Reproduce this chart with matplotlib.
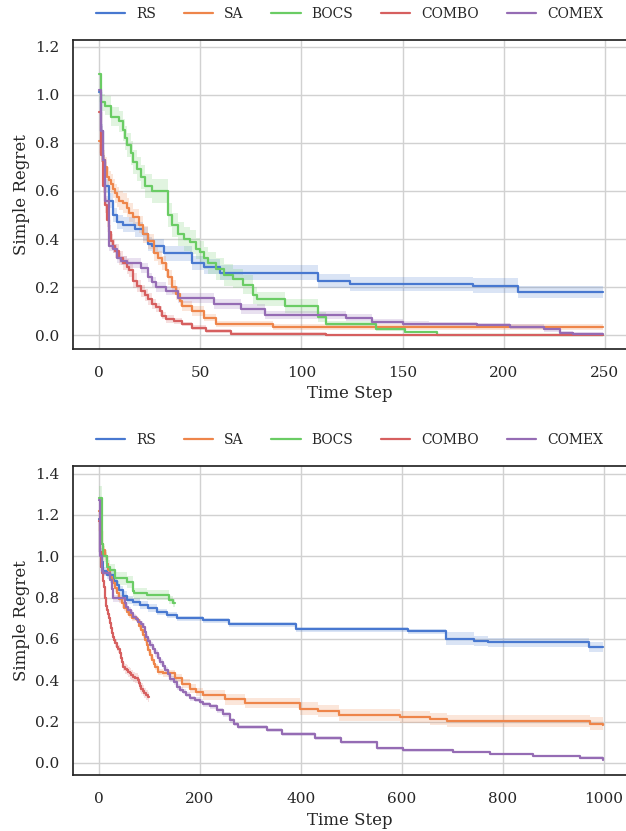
########################################################################################################################
# Simple regret curves - two benchmarks
########################################################################################################################
import numpy as np
import seaborn as sns
import matplotlib
matplotlib.use("Agg")
from matplotlib import pyplot as plt
########################################################################################################################
# Data (breakpoints of the step curves, mean and half band width)
########################################################################################################################
metodos = ["RS", "SA", "BOCS", "COMBO", "COMEX"]

# painel de cima (250 passos)
rs1_t = [0, 1, 2, 3, 5, 7, 9, 12, 18, 22, 24, 26, 32, 46, 52, 60, 108, 124, 185, 207, 249]
rs1_y = [1.01, 0.85, 0.72, 0.62, 0.56, 0.50, 0.47, 0.46, 0.44, 0.42, 0.38, 0.37, 0.34, 0.30, 0.285, 0.26,
         0.225, 0.213, 0.206, 0.18, 0.18]
rs1_e = [0.0, 0.03, 0.03, 0.03, 0.03, 0.03, 0.03, 0.03, 0.03, 0.03, 0.03, 0.03, 0.03, 0.03, 0.03, 0.03,
         0.03, 0.03, 0.03, 0.025, 0.025]

sa1_t = [0, 1, 2, 3, 4, 5, 6, 7, 8, 9, 10, 12, 14, 15, 17, 20, 22, 24, 27, 29, 31, 33, 34, 36, 38, 40, 41,
         46, 52, 58, 86, 249]
sa1_y = [0.81, 0.76, 0.73, 0.70, 0.66, 0.645, 0.63, 0.61, 0.59, 0.575, 0.56, 0.55, 0.53, 0.51, 0.49, 0.46,
         0.42, 0.39, 0.34, 0.32, 0.30, 0.27, 0.24, 0.20, 0.17, 0.14, 0.12, 0.10, 0.072, 0.045, 0.033, 0.033]
sa1_e = [0.0, 0.04, 0.04, 0.04, 0.04, 0.04, 0.04, 0.04, 0.04, 0.04, 0.04, 0.04, 0.04, 0.04, 0.035, 0.035,
         0.035, 0.03, 0.03, 0.03, 0.03, 0.03, 0.03, 0.03, 0.025, 0.02, 0.02, 0.02, 0.015, 0.012, 0.012, 0.012]

bocs1_t = [0, 1, 3, 6, 10, 12, 13, 14, 16, 17, 19, 21, 23, 26, 34, 36, 39, 42, 45, 48, 50, 52, 54, 58, 62,
           66, 71, 76, 78, 92, 108, 112, 137, 151, 167, 249]
bocs1_y = [1.085, 0.97, 0.955, 0.91, 0.89, 0.855, 0.82, 0.79, 0.76, 0.72, 0.69, 0.66, 0.62, 0.60, 0.50, 0.46,
           0.42, 0.40, 0.387, 0.36, 0.345, 0.32, 0.30, 0.275, 0.25, 0.235, 0.21, 0.165, 0.15, 0.12, 0.075,
           0.045, 0.025, 0.012, 0.002, 0.002]
bocs1_e = [0.0, 0.035, 0.04, 0.04, 0.045, 0.045, 0.05, 0.05, 0.05, 0.05, 0.05, 0.05, 0.05, 0.05, 0.05, 0.05,
           0.05, 0.05, 0.05, 0.045, 0.045, 0.045, 0.045, 0.045, 0.045, 0.04, 0.04, 0.035, 0.03, 0.03, 0.02,
           0.015, 0.01, 0.005, 0.003, 0.003]

combo1_t = [0, 1, 2, 3, 4, 5, 6, 7, 8, 10, 12, 14, 15, 17, 19, 21, 23, 24, 26, 28, 30, 31, 33, 37, 41, 46,
            53, 65, 112, 249]
combo1_y = [0.93, 0.75, 0.62, 0.54, 0.48, 0.43, 0.39, 0.37, 0.35, 0.32, 0.30, 0.285, 0.27, 0.227, 0.205,
            0.185, 0.165, 0.15, 0.13, 0.115, 0.10, 0.08, 0.067, 0.06, 0.046, 0.031, 0.017, 0.006, 0.0, 0.0]
combo1_e = [0.0, 0.03, 0.03, 0.03, 0.03, 0.03, 0.03, 0.03, 0.03, 0.03, 0.03, 0.03, 0.03, 0.03, 0.025,
            0.025, 0.025, 0.025, 0.02, 0.02, 0.02, 0.015, 0.015, 0.012, 0.01, 0.01, 0.008, 0.005, 0.003, 0.003]

comex1_t = [0, 1, 2, 3, 5, 7, 9, 11, 14, 21, 24, 26, 28, 33, 39, 57, 70, 82, 122, 135, 150, 163, 187, 203,
            220, 228, 234, 249]
comex1_y = [1.02, 0.85, 0.73, 0.56, 0.37, 0.36, 0.32, 0.31, 0.30, 0.28, 0.24, 0.22, 0.20, 0.185, 0.155, 0.13,
            0.108, 0.084, 0.073, 0.056, 0.048, 0.045, 0.04, 0.035, 0.024, 0.01, 0.005, 0.005]
comex1_e = [0.0, 0.02, 0.02, 0.02, 0.02, 0.02, 0.02, 0.02, 0.02, 0.02, 0.02, 0.02, 0.02, 0.02, 0.02, 0.02,
            0.02, 0.015, 0.015, 0.01, 0.01, 0.01, 0.01, 0.01, 0.01, 0.008, 0.006, 0.006]

# painel de baixo (1000 passos)
rs2_t = [0, 2, 5, 8, 15, 30, 35, 40, 47, 55, 68, 81, 98, 114, 134, 154, 206, 258, 390, 611, 687, 743, 770,
         971, 999]
rs2_y = [1.18, 1.02, 0.97, 0.93, 0.91, 0.88, 0.86, 0.835, 0.81, 0.79, 0.78, 0.765, 0.748, 0.73, 0.715, 0.70,
         0.69, 0.672, 0.646, 0.638, 0.602, 0.59, 0.583, 0.56, 0.56]
rs2_e = [0.0, 0.02, 0.02, 0.02, 0.02, 0.02, 0.02, 0.02, 0.02, 0.02, 0.02, 0.02, 0.02, 0.015, 0.015, 0.012,
         0.012, 0.012, 0.01, 0.012, 0.03, 0.025, 0.02, 0.025, 0.025]

sa2_t = [0, 2, 5, 8, 12, 15, 18, 22, 25, 28, 32, 35, 40, 45, 50, 55, 60, 65, 75, 80, 84, 88, 91, 95, 98, 101,
         104, 108, 111, 117, 127, 150, 164, 180, 193, 206, 250, 290, 398, 434, 476, 596, 655, 690, 972, 999]
sa2_y = [1.22, 1.12, 1.06, 1.03, 1.00, 0.965, 0.935, 0.90, 0.885, 0.87, 0.845, 0.82, 0.795, 0.772, 0.75, 0.73,
         0.715, 0.70, 0.69, 0.665, 0.643, 0.62, 0.594, 0.57, 0.546, 0.52, 0.497, 0.48, 0.465, 0.44, 0.433,
         0.41, 0.384, 0.36, 0.344, 0.328, 0.307, 0.29, 0.263, 0.25, 0.233, 0.223, 0.212, 0.202, 0.19, 0.185]
sa2_e = [0.0, 0.02, 0.02, 0.02, 0.02, 0.02, 0.02, 0.02, 0.02, 0.02, 0.02, 0.02, 0.02, 0.02, 0.015, 0.015,
         0.015, 0.015, 0.015, 0.015, 0.015, 0.015, 0.015, 0.015, 0.015, 0.015, 0.015, 0.015, 0.015, 0.015,
         0.015, 0.02, 0.02, 0.02, 0.02, 0.025, 0.025, 0.025, 0.03, 0.03, 0.03, 0.03, 0.03, 0.03, 0.03, 0.035]

bocs2_t = [0, 5, 7, 15, 22, 32, 56, 68, 70, 96, 138, 146, 150]
bocs2_y = [1.28, 1.06, 1.00, 0.95, 0.933, 0.893, 0.877, 0.83, 0.82, 0.812, 0.79, 0.775, 0.775]
bocs2_e = [0.06, 0.03, 0.03, 0.03, 0.03, 0.03, 0.03, 0.025, 0.025, 0.025, 0.02, 0.02, 0.02]

combo2_t = [0, 1, 2, 3, 4, 5, 6, 7, 8, 9, 10, 11, 12, 13, 14, 15, 17, 19, 22, 24, 26, 28, 30, 32, 35, 38, 42,
            44, 46, 48, 51, 55, 58, 61, 64, 68, 72, 78, 80, 82, 84, 87, 90, 94, 97, 99]
combo2_y = [1.17, 1.08, 1.02, 0.98, 0.95, 0.93, 0.92, 0.90, 0.88, 0.865, 0.85, 0.83, 0.80, 0.78, 0.76, 0.74,
            0.72, 0.70, 0.675, 0.655, 0.63, 0.61, 0.595, 0.58, 0.562, 0.55, 0.53, 0.51, 0.49, 0.465, 0.455,
            0.449, 0.44, 0.433, 0.425, 0.416, 0.41, 0.40, 0.385, 0.37, 0.36, 0.35, 0.34, 0.328, 0.32, 0.317]
combo2_e = [0.0, 0.02, 0.02, 0.02, 0.02, 0.02, 0.02, 0.02, 0.02, 0.02, 0.02, 0.02, 0.02, 0.02, 0.02, 0.02,
            0.02, 0.02, 0.02, 0.02, 0.02, 0.02, 0.02, 0.02, 0.02, 0.02, 0.02, 0.02, 0.02, 0.02, 0.025, 0.025,
            0.025, 0.025, 0.025, 0.025, 0.025, 0.025, 0.025, 0.025, 0.025, 0.025, 0.025, 0.025, 0.025, 0.025]

comex2_t = [0, 2, 5, 8, 22, 25, 28, 51, 54, 58, 63, 68, 73, 78, 83, 88, 91, 94, 97, 101, 106, 111, 116, 121,
            126, 131, 136, 141, 148, 154, 160, 167, 173, 180, 190, 200, 206, 220, 233, 246, 260, 268, 276,
            332, 362, 428, 480, 550, 602, 701, 774, 859, 952, 999]
comex2_y = [1.27, 1.0, 0.93, 0.92, 0.885, 0.84, 0.796, 0.772, 0.755, 0.74, 0.725, 0.707, 0.695, 0.683, 0.67,
            0.66, 0.635, 0.61, 0.59, 0.57, 0.55, 0.53, 0.51, 0.489, 0.47, 0.449, 0.43, 0.408, 0.39, 0.368,
            0.355, 0.344, 0.33, 0.312, 0.305, 0.295, 0.285, 0.275, 0.255, 0.235, 0.207, 0.19, 0.174, 0.158,
            0.142, 0.12, 0.10, 0.07, 0.061, 0.053, 0.042, 0.034, 0.026, 0.015]
comex2_e = [0.0, 0.02, 0.02, 0.015, 0.015, 0.015, 0.015, 0.015, 0.015, 0.015, 0.015, 0.015, 0.015, 0.015,
            0.015, 0.015, 0.015, 0.015, 0.015, 0.015, 0.015, 0.015, 0.015, 0.015, 0.015, 0.015, 0.015, 0.015,
            0.015, 0.015, 0.012, 0.012, 0.012, 0.012, 0.012, 0.012, 0.012, 0.012, 0.012, 0.012, 0.012, 0.01,
            0.01, 0.01, 0.01, 0.008, 0.008, 0.008, 0.006, 0.006, 0.006, 0.006, 0.006, 0.006]
########################################################################################################################
# Estilo
########################################################################################################################
sns.set_theme(style="whitegrid")
plt.rcParams["font.family"] = ["DejaVu Serif"]
plt.rcParams["axes.edgecolor"] = "0.15"
plt.rcParams["axes.linewidth"] = 1.25
plt.rcParams["grid.color"] = "0.82"
cores = sns.color_palette("muted")[:5]

fig = plt.figure(figsize=(6.26, 8.31), dpi=100)
ax1 = fig.add_axes([0.117, 0.58, 0.883, 0.372])
ax2 = fig.add_axes([0.117, 0.067, 0.883, 0.372])

painel1 = [(rs1_t, rs1_y, rs1_e), (sa1_t, sa1_y, sa1_e), (bocs1_t, bocs1_y, bocs1_e),
           (combo1_t, combo1_y, combo1_e), (comex1_t, comex1_y, comex1_e)]
painel2 = [(rs2_t, rs2_y, rs2_e), (sa2_t, sa2_y, sa2_e), (bocs2_t, bocs2_y, bocs2_e),
           (combo2_t, combo2_y, combo2_e), (comex2_t, comex2_y, comex2_e)]
########################################################################################################################
# Desenhar
########################################################################################################################
for ax, painel in [(ax1, painel1), (ax2, painel2)]:
    for nome, cor, (t, y, e) in zip(metodos, cores, painel):
        t = np.array(t)
        y = np.array(y)
        e = np.array(e)
        ax.fill_between(t, y - e, y + e, step="post", color=cor, alpha=0.2, linewidth=0)
        ax.plot(t, y, drawstyle="steps-post", color=cor, lw=1.6, label=nome)
    ax.spines["right"].set_visible(False)
    ax.set_ylabel("Simple Regret", fontsize=12)
    ax.set_xlabel("Time Step", fontsize=12, labelpad=4)
    ax.tick_params(axis="x", labelsize=11, pad=6)
    ax.tick_params(axis="y", labelsize=11, pad=4)
    ax.legend(loc="lower center", bbox_to_anchor=(0.5, 1.022), ncol=5, frameon=False, fontsize=10,
              handlelength=2.1, handletextpad=0.8, columnspacing=2.0)

ax1.set_xlim(-12.7, 260.4)
ax1.set_ylim(-0.058, 1.229)
ax1.set_xticks([0, 50, 100, 150, 200, 250])
ax1.set_yticks([0.0, 0.2, 0.4, 0.6, 0.8, 1.0, 1.2])

ax2.set_xlim(-51, 1043.6)
ax2.set_ylim(-0.06, 1.436)
ax2.set_xticks([0, 200, 400, 600, 800, 1000])
ax2.set_yticks([0.0, 0.2, 0.4, 0.6, 0.8, 1.0, 1.2, 1.4])

fig.savefig("out.png", dpi=100)
########################################################################################################################
